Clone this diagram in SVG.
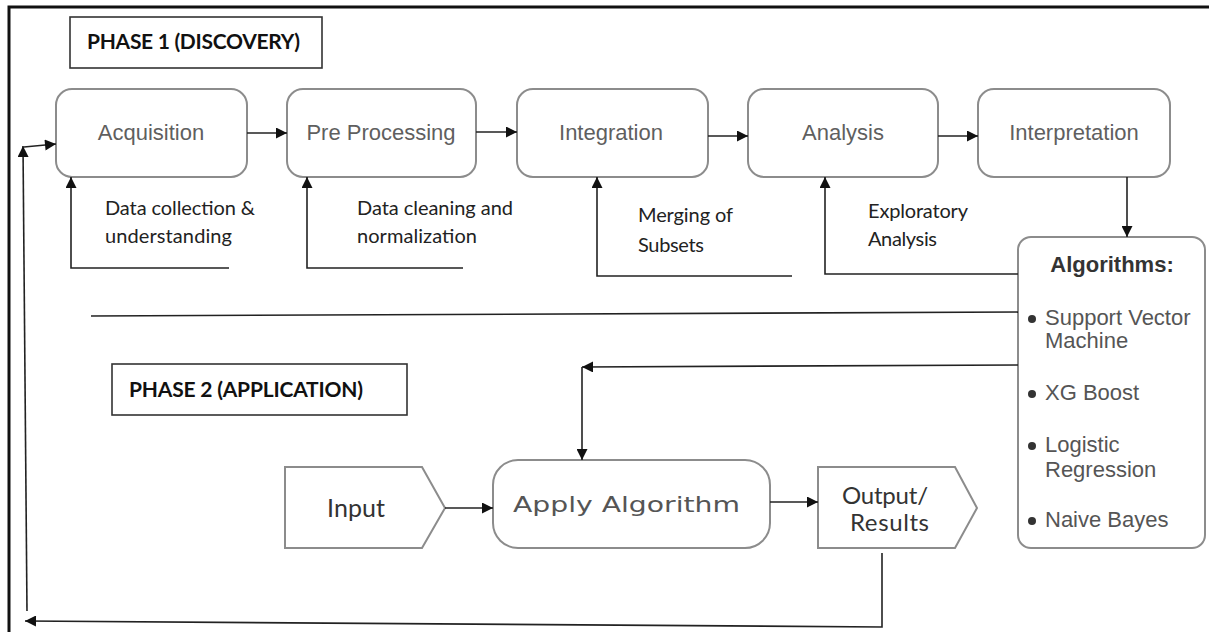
<svg xmlns="http://www.w3.org/2000/svg" width="1209" height="632" viewBox="0 0 1209 632">
<style>
.box{fill:#fff;stroke:#8c8c8c;stroke-width:2}
.pbox{fill:#fff;stroke:#333;stroke-width:1.6}
.t{font-family:"Liberation Sans",Arial,sans-serif;font-size:22px;fill:#5f5f5f;text-anchor:middle}
.c{font-family:Lato,"Liberation Sans",sans-serif;font-size:20px;fill:#222}
.big{font-family:Lato,"Liberation Sans",sans-serif;font-size:25px;fill:#333}
.ph{font-family:Lato,"Liberation Sans",sans-serif;font-size:21px;font-weight:bold;fill:#111}
.b{font-family:"Liberation Sans",Arial,sans-serif;font-size:22px;fill:#555}
.ln{fill:none;stroke:#222;stroke-width:1.6}
.ar{fill:none;stroke:#222;stroke-width:1.6;marker-end:url(#ah)}
</style>
<defs>
<marker id="ah" viewBox="0 0 10 10" refX="10" refY="5" markerWidth="12" markerHeight="11" markerUnits="userSpaceOnUse" orient="auto">
<path d="M0,0 L10,5 L0,10 z" fill="#111"/>
</marker>
</defs>
<rect width="1209" height="632" fill="#fff"/>
<g id="border">
<path d="M9,632 V7 H1209" fill="none" stroke="#111" stroke-width="3"/>
</g>
<g id="phase1">
<rect class="pbox" x="70" y="17" width="252" height="51"/>
<text class="ph" x="87" y="49" textLength="213">PHASE 1 (DISCOVERY)</text>
</g>
<g id="acquisition">
<rect class="box" x="56" y="89" width="191" height="88" rx="16"/>
<text class="t" x="151" y="140">Acquisition</text>
</g>
<g id="preprocessing">
<rect class="box" x="287" y="89" width="189" height="88" rx="16"/>
<text class="t" x="381" y="140">Pre Processing</text>
</g>
<g id="integration">
<rect class="box" x="517" y="89" width="191" height="88" rx="16"/>
<text class="t" x="611" y="140">Integration</text>
</g>
<g id="analysis">
<rect class="box" x="748" y="89" width="190" height="88" rx="16"/>
<text class="t" x="843" y="140">Analysis</text>
</g>
<g id="interpretation">
<rect class="box" x="978" y="89" width="192" height="88" rx="16"/>
<text class="t" x="1074" y="140">Interpretation</text>
</g>
<g id="labels">
<text class="c" x="105" y="215" textLength="150">Data collection &amp;</text>
<text class="c" x="105" y="243" textLength="127">understanding</text>
<text class="c" x="357" y="215" textLength="156">Data cleaning and</text>
<text class="c" x="357" y="243" textLength="120">normalization</text>
<text class="c" x="638" y="222" textLength="95">Merging of</text>
<text class="c" x="638" y="252" textLength="66">Subsets</text>
<text class="c" x="868" y="218" textLength="100">Exploratory</text>
<text class="c" x="868" y="246" textLength="69">Analysis</text>
</g>
<g id="algorithms">
<rect class="box" x="1018" y="237" width="187" height="311" rx="13"/>
<text x="1112" y="272" font-family="Liberation Sans,Arial,sans-serif" font-size="22" font-weight="bold" fill="#333" text-anchor="middle">Algorithms:</text>
<circle cx="1032" cy="319" r="4" fill="#333"/>
<text class="b" x="1045" y="325">Support Vector</text>
<text class="b" x="1045" y="348">Machine</text>
<circle cx="1032" cy="394" r="4" fill="#333"/>
<text class="b" x="1045" y="400">XG Boost</text>
<circle cx="1032" cy="446" r="4" fill="#333"/>
<text class="b" x="1045" y="452">Logistic</text>
<text class="b" x="1045" y="477">Regression</text>
<circle cx="1032" cy="521" r="4" fill="#333"/>
<text class="b" x="1045" y="527">Naive Bayes</text>
</g>
<g id="phase2">
<rect class="pbox" x="112" y="364" width="295" height="51"/>
<text class="ph" x="129" y="397" textLength="234">PHASE 2 (APPLICATION)</text>
</g>
<g id="input">
<path class="box" d="M285,467 H422 L445,508 L422,548 H285 Z" stroke-width="1.6"/>
<text class="big" x="327" y="517" textLength="58">Input</text>
</g>
<g id="apply">
<rect class="box" x="493" y="460" width="277" height="88" rx="25"/>
<text x="513" y="512" font-family="DejaVu Sans,sans-serif" font-size="21" fill="#555" textLength="227" lengthAdjust="spacingAndGlyphs">Apply Algorithm</text>
</g>
<g id="output">
<path class="box" d="M818,467 H955 L977,508 L955,548 H818 Z" stroke-width="1.6"/>
<text class="big" x="842" y="504" style="font-size:24px" textLength="86">Output/</text>
<text class="big" x="850" y="531" style="font-size:24px" textLength="79">Results</text>
</g>
<g id="connectors">
<line class="ar" x1="247" y1="133" x2="287" y2="133"/>
<line class="ar" x1="476" y1="132" x2="517" y2="132"/>
<line class="ar" x1="708" y1="136" x2="748" y2="136"/>
<line class="ar" x1="938" y1="136" x2="978" y2="136"/>
<path class="ar" d="M229,268 H71 V177"/>
<path class="ar" d="M463,268 H307 V177"/>
<path class="ar" d="M792,276 H597 V177"/>
<path class="ar" d="M1018,274 H825 V177"/>
<line class="ar" x1="1127" y1="177" x2="1127" y2="237"/>
<line class="ln" x1="91" y1="316" x2="1018" y2="312"/>
<path class="ar" d="M1018,365 L582,367"/>
<path class="ar" d="M582,367 V460"/>
<line class="ar" x1="445" y1="508" x2="493" y2="508"/>
<line class="ar" x1="770" y1="502" x2="818" y2="502"/>
<path class="ar" d="M882,553 V627 L25,621"/>
<path class="ar" d="M27,611 L23,146"/>
<path class="ar" d="M24,147 L56,144"/>
</g>
</svg>
